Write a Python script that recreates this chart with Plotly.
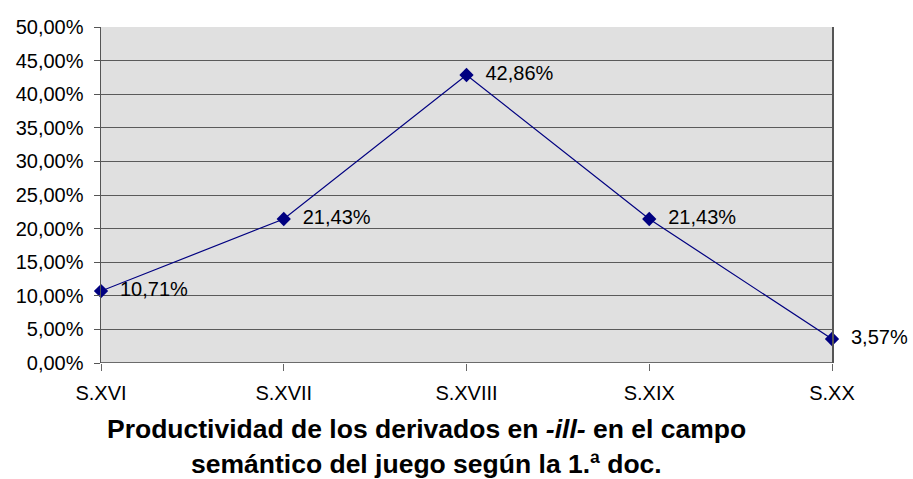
import plotly.graph_objects as go

categories = ["S.XVI", "S.XVII", "S.XVIII", "S.XIX", "S.XX"]
values = [0.1071, 0.2143, 0.4286, 0.2143, 0.0357]
y_ticks = [0, 0.05, 0.10, 0.15, 0.20, 0.25, 0.30, 0.35, 0.40, 0.45, 0.50]
title_lines = [
    "<b>Productividad de los derivados en <i>-ill-</i> en el campo</b>",
    "<b>semántico del juego según la 1.ª doc.</b>",
]

FONT = "Liberation Sans, Arial, sans-serif"

W, H = 913, 479
ML, MR, MT, MB = 101, 81, 27, 116
PH = H - MT - MB
PW = W - ML - MR

fig = go.Figure()
fig.add_trace(go.Scatter(
    x=categories, y=values,
    mode="lines+markers+text",
    line=dict(color="#000080", width=1.2),
    marker=dict(symbol="diamond", size=11, color="#000080"),
    text=["  " + f"{v*100:.2f}".replace(".", ",") + "%" for v in values],
    textposition="middle right",
    textfont=dict(family=FONT, size=20, color="#000000"),
    cliponaxis=False,
    hoverinfo="skip",
))

annotations = []
for i, line in enumerate(title_lines):
    annotations.append(dict(
        xref="paper", yref="paper", x=(426.5 - ML) / PW, y=-(66 + 35 * i) / PH,
        yanchor="middle", xanchor="center", showarrow=False,
        text=line, font=dict(family=FONT, size=26.5, color="#000000"),
    ))

fig.update_layout(
    width=W, height=H,
    margin=dict(l=ML, r=MR, t=MT, b=MB, autoexpand=False),
    paper_bgcolor="#ffffff",
    plot_bgcolor="#e0e0e0",
    separators=",.",
    showlegend=False,
    hovermode=False,
    font=dict(family=FONT, size=20, color="#000000"),
    xaxis=dict(
        type="category", categoryorder="array", categoryarray=categories,
        range=[0, 4], showgrid=False, zeroline=False, showline=False,
        automargin=False,
        ticks="outside", ticklen=7, tickcolor="#666666", tickwidth=1,
        tickfont=dict(family=FONT, size=20),
        ticklabelstandoff=5,
    ),
    yaxis=dict(
        range=[0, 0.5], tickvals=y_ticks, tickformat=".2%",
        showgrid=True, gridcolor="#5a5a5a", gridwidth=1,
        zeroline=False, showline=True, linecolor="#555555", linewidth=1.5,
        mirror=True, automargin=False,
        ticks="outside", ticklen=6, tickcolor="#555555",
        tickfont=dict(family=FONT, size=20),
        ticklabelstandoff=6,
    ),
    annotations=annotations,
)
fig.add_shape(type="line", xref="paper", yref="y", x0=0, x1=1, y0=0, y1=0,
              line=dict(color="#444444", width=1.5))

fig.write_html(
    "out.html",
    config={"displayModeBar": False, "staticPlot": True},
    post_script="document.body.style.margin='0';document.body.style.overflow='hidden';",
)
